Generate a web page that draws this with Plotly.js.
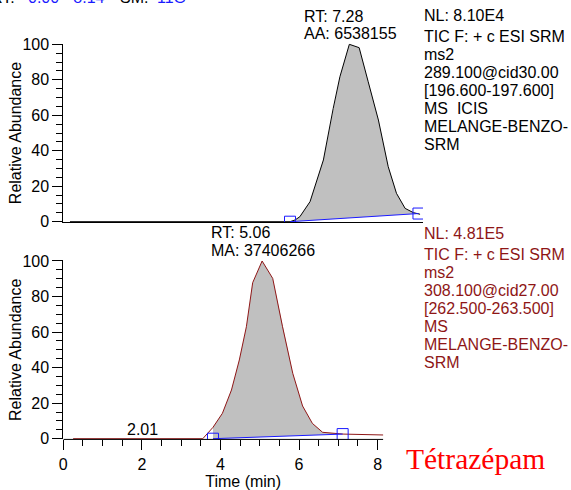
<!DOCTYPE html>
<html>
<head>
<meta charset="utf-8">
<script src="https://cdn.plot.ly/plotly-3.0.1.min.js"></script>
<style>html,body{margin:0;padding:0;background:#fff;}#chart{width:571px;height:490px;}</style>
</head>
<body>
<div id="chart"></div>
<script>
// ---------------- data ----------------
const rtRange = [0.00, 8.14];
const smoothing = '11G';

// upper trace (TIC 289.100)
const topTime  = [0.17, 5.77, 5.90, 6.02, 6.28, 6.62, 6.87, 7.04, 7.28, 7.53, 7.76, 8.02, 8.27, 8.48, 8.70, 8.91, 9.08];
const topAbund = [0, 0, 1.0, 2.8, 11.3, 34.8, 63.9, 81.7, 100, 98.1, 78.9, 57.3, 31.0, 16.0, 7.5, 5.1, 4.2];
const topBaseTime  = [5.77, 9.04];
const topBaseAbund = [0, 4.6];
const topPeakRT = 7.28;
const topPeakArea = 6538155;
const topInfo = ['NL: 8.10E4', 'TIC F: + c ESI SRM', 'ms2', '289.100@cid30.00',
                 '[196.600-197.600]', 'MS\u00a0\u00a0ICIS', 'MELANGE-BENZO-', 'SRM'];

// lower trace (TIC 308.100)
const botTime  = [0.25, 3.55, 3.81, 4.05, 4.28, 4.48, 4.66, 4.82, 5.06, 5.33, 5.58, 5.84, 6.09, 6.34, 6.60, 7.12, 8.14];
const botAbund = [0, 0, 6.4, 14.3, 27.4, 44.3, 63.0, 87.8, 100, 90.2, 63.0, 36.8, 18.4, 8.6, 3.6, 2.6, 2.1];
const botBaseTime  = [3.81, 7.11];
const botBaseAbund = [0, 2.6];
const botPeakRT = 5.06;
const botPeakArea = 37406266;
const botMinorRT = 2.01;
const botInfo = ['NL: 4.81E5', 'TIC F: + c ESI SRM', 'ms2', '308.100@cid27.00',
                 '[262.500-263.500]', 'MS', 'MELANGE-BENZO-', 'SRM'];
const compound = 'Tétrazépam';

// ---------------- layout helpers ----------------
const W = 571, H = 490;
const FONT = 'Liberation Sans, Arial, sans-serif';
const SERIF = 'Liberation Serif, Times New Roman, serif';
const DARKRED = '#8e1616';
const BLUE = '#1a1aff';
const GRAY = '#c0c0c0';
const px = x => x / W;
const py = y => 1 - y / H;
const xLeftPx = 63.3, xRightPx = 423;
const pxPerMin = 39.29;
const xMax = (xRightPx - xLeftPx) / pxPerMin;
const yPad = 0.4;
function yDomain(y0px, y100px) {
  const s = (y0px - y100px) / 100;
  return [py(y0px + yPad * s), py(y100px - yPad * s)];
}

function fillPoly(t, a, bt, ba, tMax) {
  const xs = [bt[0]], ys = [ba[0]];
  for (let i = 0; i < t.length; i++) {
    if (t[i] >= bt[0] && t[i] <= tMax) { xs.push(t[i]); ys.push(a[i]); }
  }
  xs.push(bt[1]); ys.push(ba[1]);
  xs.push(bt[0]); ys.push(ba[0]);
  return {xs, ys};
}
const topFill = fillPoly(topTime, topAbund, topBaseTime, topBaseAbund, topTime[topTime.length - 1]);
const botFill = fillPoly(botTime, botAbund, botBaseTime, botBaseAbund, botBaseTime[1] + 0.02);

const traces = [
  {x: topFill.xs, y: topFill.ys, xaxis: 'x2', yaxis: 'y2', type: 'scatter', mode: 'lines',
   fill: 'toself', fillcolor: GRAY, line: {width: 0}, hoverinfo: 'skip', showlegend: false},
  {x: topTime, y: topAbund, xaxis: 'x2', yaxis: 'y2', type: 'scatter', mode: 'lines',
   line: {color: '#000000', width: 1}, showlegend: false},
  {x: topBaseTime, y: topBaseAbund, xaxis: 'x2', yaxis: 'y2', type: 'scatter', mode: 'lines+markers',
   line: {color: BLUE, width: 1}, marker: {symbol: 'square-open', size: 11, color: BLUE, line: {width: 1, color: BLUE}},
   showlegend: false},

  {x: botFill.xs, y: botFill.ys, xaxis: 'x', yaxis: 'y', type: 'scatter', mode: 'lines',
   fill: 'toself', fillcolor: GRAY, line: {width: 0}, hoverinfo: 'skip', showlegend: false},
  {x: botTime, y: botAbund, xaxis: 'x', yaxis: 'y', type: 'scatter', mode: 'lines',
   line: {color: DARKRED, width: 1}, showlegend: false},
  {x: botBaseTime, y: botBaseAbund, xaxis: 'x', yaxis: 'y', type: 'scatter', mode: 'lines+markers',
   line: {color: BLUE, width: 1}, marker: {symbol: 'square-open', size: 11, color: BLUE, line: {width: 1, color: BLUE}},
   showlegend: false}
];

const minorX = [];
for (let v = 0.5; v <= rtRange[1] + 1e-9; v += 0.5) minorX.push(+v.toFixed(2));

const yCommon = {
  range: [-yPad, 100 + yPad], showline: true, linecolor: '#000', linewidth: 1,
  ticks: 'outside', ticklen: 10, tickwidth: 1, tickcolor: '#000',
  tickmode: 'linear', tick0: 0, dtick: 20,
  minor: {ticks: 'outside', ticklen: 6, tickwidth: 1, tickcolor: '#000', dtick: 5, tick0: 0},
  showgrid: false, zeroline: false,
  tickfont: {family: FONT, size: 16, color: '#000'},
  title: {text: 'Relative Abundance', font: {family: FONT, size: 16, color: '#000'}}
};

const annotations = [];
function addText(text, xPx, yPx, opts) {
  annotations.push(Object.assign({
    text: text, xref: 'paper', yref: 'paper', x: px(xPx), y: py(yPx),
    xanchor: 'left', yanchor: 'middle', showarrow: false, borderpad: 0,
    font: {family: FONT, size: 16, color: '#000'}
  }, opts || {}));
}
// header (cropped at the top edge, as in the reference)
addText('RT:', -10, -2.2);
addText(rtRange[0].toFixed(2) + ' - ' + rtRange[1].toFixed(2), 66, -2.2, {xanchor: 'center', font: {family: FONT, size: 16, color: BLUE}});
addText('SM:', 134, -2.2, {xanchor: 'center'});
addText(smoothing, 171, -2.2, {xanchor: 'center', font: {family: FONT, size: 16, color: BLUE}});

// peak labels
addText('RT: ' + topPeakRT.toFixed(2), 303.3, 16.7);
addText('AA: ' + topPeakArea, 303.3, 33.7);
addText('RT: ' + botPeakRT.toFixed(2), 210, 232.5);
addText('MA: ' + botPeakArea, 210, 250.8);
annotations.push({text: botMinorRT.toFixed(2), xref: 'x', yref: 'paper', x: botMinorRT, y: py(429),
  xanchor: 'center', yanchor: 'middle', showarrow: false, borderpad: 0,
  font: {family: FONT, size: 16, color: '#000'}});

// info blocks
const topLinesY = [15.3, 36.3, 54.4, 72.5, 90.6, 108.7, 126.8, 144.9];
const botLinesY = [233.3, 254.3, 272.4, 290.5, 308.6, 326.7, 344.8, 362.9];
topInfo.forEach((t, i) => addText(t, 423, topLinesY[i]));
botInfo.forEach((t, i) => addText(t, 423, botLinesY[i], {font: {family: FONT, size: 16, color: DARKRED}}));

// compound name
addText(compound, 405, 459, {font: {family: SERIF, size: 29.5, color: '#ff0000'}});

const layout = {
  width: W, height: H,
  margin: {l: 0, r: 0, t: 0, b: 0},
  paper_bgcolor: '#fff', plot_bgcolor: 'rgba(0,0,0,0)',
  showlegend: false,
  xaxis: {
    domain: [px(xLeftPx), px(xRightPx)], range: [0, xMax], anchor: 'y',
    showline: false, ticks: 'outside', ticklen: 10, tickwidth: 1, tickcolor: '#000',
    tickmode: 'linear', tick0: 0, dtick: 2,
    minor: {tickmode: 'array', tickvals: minorX, ticks: 'outside', ticklen: 6, tickwidth: 1, tickcolor: '#000'},
    showgrid: false, zeroline: false,
    tickfont: {family: FONT, size: 16, color: '#000'},
    title: {text: 'Time (min)', font: {family: FONT, size: 16, color: '#000'}}
  },
  yaxis: Object.assign({}, yCommon, {domain: yDomain(438.7, 261), anchor: 'x'}),
  xaxis2: {
    domain: [px(xLeftPx), px(xRightPx)], range: [0, xMax], anchor: 'y2',
    showline: true, linecolor: '#000', linewidth: 1, ticks: '', showticklabels: false,
    showgrid: false, zeroline: false
  },
  yaxis2: Object.assign({}, yCommon, {domain: yDomain(221.7, 44.3), anchor: 'x2'}),
  shapes: [
    {type: 'line', xref: 'x', yref: 'y domain', x0: rtRange[0], x1: rtRange[1], y0: 0, y1: 0,
     line: {color: '#000', width: 1}, layer: 'above'}
  ],
  annotations: annotations
};

Plotly.newPlot('chart', traces, layout, {staticPlot: true, displayModeBar: false});
</script>
</body>
</html>
